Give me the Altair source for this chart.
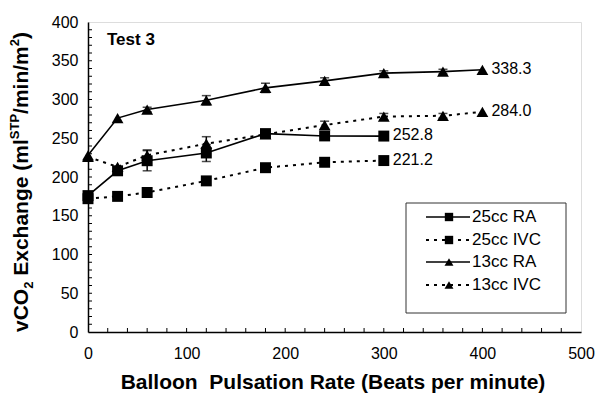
import altair as alt
import pandas as pd

# Pulsation rates (beats per minute)
rate_25 = [0, 30, 60, 120, 180, 240, 300]
rate_13 = [0, 30, 60, 120, 180, 240, 300, 360, 400]

# vCO2 exchange (ml STP/min/m^2)
ra_25 = [176, 208, 221, 231, 256, 253, 252.8]
ivc_25 = [172, 175, 180, 195, 212, 219, 221.2]
ra_13 = [228, 276, 287, 299, 315, 324, 334, 336, 338.3]
ivc_13 = [226, 213, 228, 243, 255, 267, 278, 279, 284.0]

# standard deviations (0 = no visible bar)
sd_ra_25 = [0, 0, 13, 11, 0, 0, 0]
sd_ivc_25 = [0, 0, 0, 0, 0, 0, 5]
sd_ra_13 = [0, 0, 3, 6, 6, 4, 3, 3, 0]
sd_ivc_13 = [0, 0, 7, 9, 0, 5, 4, 3, 0]

series_names = ["25cc RA", "25cc IVC", "13cc RA", "13cc IVC"]
end_labels = ["252.8", "221.2", "338.3", "284.0"]

FONT = "Liberation Sans"
W, H = 493, 310

rows = []
for name, xs, ys, sds in [
    ("25cc RA", rate_25, ra_25, sd_ra_25),
    ("25cc IVC", rate_25, ivc_25, sd_ivc_25),
    ("13cc RA", rate_13, ra_13, sd_ra_13),
    ("13cc IVC", rate_13, ivc_13, sd_ivc_13),
]:
    for x, y, s in zip(xs, ys, sds):
        rows.append({"series": name, "rate": x, "vco2": y, "lo": y - s, "hi": y + s, "sd": s})
df = pd.DataFrame(rows)

xscale = alt.Scale(domain=[0, 500], nice=False, zero=True)
yscale = alt.Scale(domain=[0, 400], nice=False, zero=True)

x_axis = alt.Axis(values=[0, 100, 200, 300, 400, 500], title=None, grid=False,
                  ticks=False, labelPadding=13, labelFontSize=16, labelFont=FONT,
                  labelColor="black", domainColor="black", domainWidth=1.5,
                  labelFlush=False, labelOverlap=False)
y_axis = alt.Axis(values=list(range(0, 401, 50)), title=None, grid=False,
                  ticks=False, labelPadding=10, labelFontSize=16, labelFont=FONT,
                  labelColor="black", domainColor="black", domainWidth=1.5,
                  labelOverlap=False)


def xq(field="rate"):
    return alt.X(f"{field}:Q", scale=xscale, axis=x_axis)


def yq(field="vco2"):
    return alt.Y(f"{field}:Q", scale=yscale, axis=y_axis)


layers = []
for name in series_names:
    sub = df[df.series == name]
    dotted = "IVC" in name
    shape = "square" if name.startswith("25") else "triangle-up"
    line_kw = dict(color="black", strokeWidth=2 if dotted else 1.6)
    if dotted:
        line_kw["strokeDash"] = [3, 5]
    base = alt.Chart(sub)
    layers.append(base.mark_line(**line_kw).encode(x=xq(), y=yq()))
    bars = sub[sub.sd > 0]
    if len(bars):
        eb = alt.Chart(bars)
        layers.append(eb.mark_rule(color="black", strokeWidth=1.5).encode(
            x=xq(), y=yq("lo"), y2="hi:Q"))
        for col in ["lo", "hi"]:
            layers.append(eb.mark_tick(orient="horizontal", color="black", size=9,
                                       thickness=1.5).encode(x=xq(), y=yq(col)))
    layers.append(base.mark_point(shape=shape, filled=True, color="black", opacity=1,
                                  size=120 if shape == "square" else 140).encode(
        x=xq(), y=yq()))

# value labels at the last point of each series
last = df.groupby("series", sort=False).tail(1).copy()
last["label"] = last["series"].map(dict(zip(series_names, end_labels)))
layers.append(alt.Chart(last).mark_text(align="left", baseline="middle", dx=9, dy=-1,
                                        fontSize=16, font=FONT, color="black").encode(
    x=xq(), y=yq(), text="label:N"))

# inward minor ticks along the axes
xminor = pd.DataFrame({"rate": list(range(20, 500, 20))})
yminor = pd.DataFrame({"vco2": list(range(10, 400, 10))})
layers.append(alt.Chart(xminor).mark_rule(color="black", strokeWidth=1).encode(
    x=xq(), y=alt.value(H), y2=alt.value(H - 4)))
layers.append(alt.Chart(yminor).mark_rule(color="black", strokeWidth=1).encode(
    y=yq(), x=alt.value(0), x2=alt.value(4)))

# panel label
layers.append(alt.Chart(pd.DataFrame({"t": ["Test 3"]})).mark_text(
    align="left", baseline="middle", fontSize=17, fontWeight="bold", font=FONT,
    color="black").encode(x=alt.value(19), y=alt.value(18), text="t:N"))

# legend box
legend_df = pd.DataFrame({"series": series_names, "ly": [195, 218, 240, 263]})
layers.append(alt.Chart(pd.DataFrame({"a": [0]})).mark_rect(
    fill="white", stroke="#333", strokeWidth=1).encode(
    x=alt.value(318), x2=alt.value(478), y=alt.value(181), y2=alt.value(291)))
for _, r in legend_df.iterrows():
    one = alt.Chart(pd.DataFrame([r]))
    dotted = "IVC" in r.series
    kw = dict(color="black", strokeWidth=2 if dotted else 1.6)
    if dotted:
        kw["strokeDash"] = [3, 5]
    layers.append(one.mark_rule(**kw).encode(
        x=alt.value(338), x2=alt.value(382), y=alt.Y("ly:Q", scale=None)))
    shape = "square" if r.series.startswith("25") else "triangle-up"
    layers.append(one.mark_point(shape=shape, filled=True, color="black", opacity=1,
                                 size=70 if shape == "square" else 80).encode(
        x=alt.value(361), y=alt.Y("ly:Q", scale=None)))
    layers.append(one.mark_text(align="left", baseline="middle", fontSize=17, font=FONT,
                                color="black").encode(
        x=alt.value(384), y=alt.Y("ly:Q", scale=None), text="series:N"))

# x-axis title
layers.append(alt.Chart(pd.DataFrame({"t": ["Balloon\u00a0 Pulsation Rate (Beats per minute)"]})).mark_text(
    align="center", baseline="middle", fontSize=21, fontWeight="bold", font=FONT,
    color="black").encode(x=alt.value(245), y=alt.value(361), text="t:N"))

# y-axis title with sub/superscripts, drawn bottom-to-top
BIG, SMALL = 21, 13
segments = [  # text, size, offset across the baseline, gap before (em), width (em)
    ("vCO", BIG, 0, 0, 2.056),
    ("2", SMALL, 7, 0, 0.556),
    ("Exchange (ml", BIG, 0, 0.278, 6.502),
    ("STP", SMALL, -7, 0, 1.945),
    ("/min/m", BIG, 0, 0, 3.223),
    ("2", SMALL, -7, 0, 0.556),
    (")", BIG, 0, 0, 0.333),
]
ypos = 310
title_rows = []
for txt, size, off, gap, em in segments:
    ypos -= gap * size
    title_rows.append({"t": txt, "size": size, "px": -66 + off, "py": ypos})
    ypos -= em * size
tdf = pd.DataFrame(title_rows)
for size in [BIG, SMALL]:
    part = tdf[tdf["size"] == size]
    layers.append(alt.Chart(part).mark_text(
        align="left", baseline="middle", angle=270, fontSize=size, fontWeight="bold",
        font=FONT, color="black").encode(
        x=alt.X("px:Q", scale=None), y=alt.Y("py:Q", scale=None), text="t:N"))

chart = alt.layer(*layers).properties(
    width=W, height=H,
    padding={"left": 88, "top": 22, "right": 15, "bottom": 65},
    autosize="none",
).configure_view(stroke="black", strokeWidth=1.5).configure(background="white")

chart.save("out.html", embed_options={"renderer": "svg", "actions": False})
